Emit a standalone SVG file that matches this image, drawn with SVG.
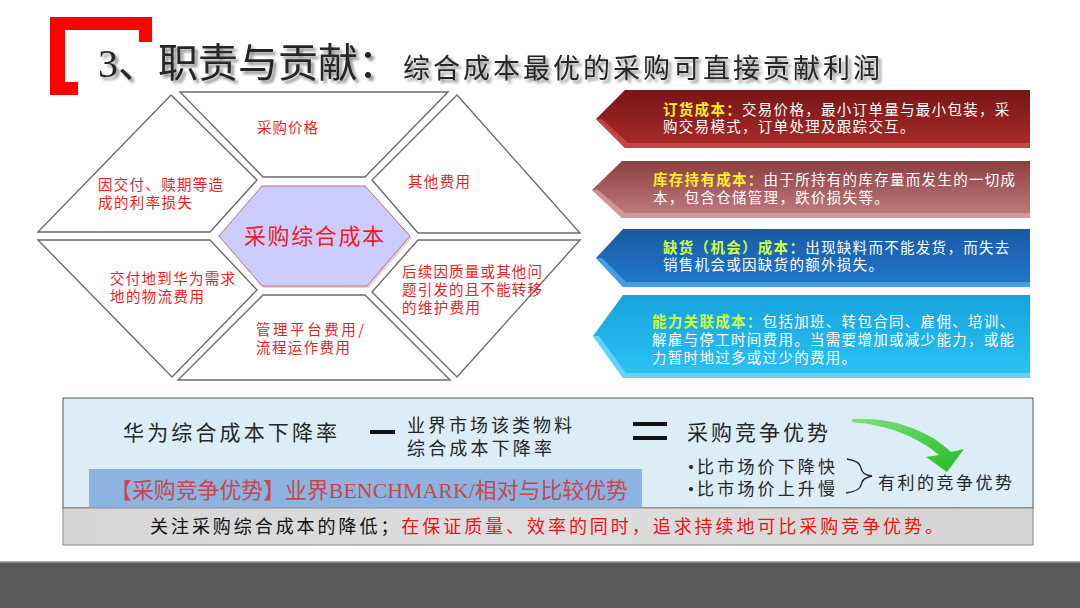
<svg xmlns="http://www.w3.org/2000/svg" width="1080" height="608" viewBox="0 0 1080 608">
<style>
.cjk{font-family:'Liberation Serif','Noto Sans CJK SC',serif}
.sans{font-family:'Noto Sans CJK SC',sans-serif}
.piece{fill:#fff;stroke:#6b6b6b;stroke-width:1.4;stroke-linejoin:miter}
.lbl{fill:#ee1c25;font-size:14.5px}
.arr{fill:#fff;font-size:14.5px;letter-spacing:1.3px}
.ylw{fill:#ffee33;font-weight:bold}
.grn{fill:#ccff44;font-weight:bold}
.dark{fill:#262626}
</style>
<defs>
<filter id="tsh" x="-5%" y="-20%" width="115%" height="160%">
<feDropShadow dx="3" dy="3" stdDeviation="1.5" flood-color="#000" flood-opacity="0.45"/>
</filter>
<linearGradient id="g1" x1="0" y1="0" x2="0" y2="1"><stop offset="0" stop-color="#761616"/><stop offset="1" stop-color="#ab2b2b"/></linearGradient>
<linearGradient id="g2" x1="0" y1="0" x2="0" y2="1"><stop offset="0" stop-color="#8a3f40"/><stop offset="1" stop-color="#c27f80"/></linearGradient>
<linearGradient id="g3" x1="0" y1="0" x2="0" y2="1"><stop offset="0" stop-color="#1a5aa5"/><stop offset="1" stop-color="#2079cc"/></linearGradient>
<linearGradient id="g4" x1="0" y1="0" x2="0" y2="1"><stop offset="0" stop-color="#17a2dc"/><stop offset="1" stop-color="#2cc3f4"/></linearGradient>
<linearGradient id="gg" x1="0" y1="0" x2="1" y2="1"><stop offset="0" stop-color="#7fe07f"/><stop offset="1" stop-color="#22bb22"/></linearGradient>
<linearGradient id="gstrip" x1="0" y1="0" x2="1" y2="0"><stop offset="0" stop-color="#d6d6d6"/><stop offset="0.5" stop-color="#dedede"/><stop offset="1" stop-color="#d4d4d4"/></linearGradient>
</defs>
<rect width="1080" height="608" fill="#fff"/>

<g id="title">
<polygon points="50,17 152,17 152,42 139,42 139,30 65,30 65,82 78,82 78,95 50,95" fill="#ff0000"/>
<g filter="url(#tsh)">
<text class="cjk dark" x="98" y="77" font-size="40" textLength="300" lengthAdjust="spacingAndGlyphs">3、职责与贡献：</text>
<text class="sans dark" x="403" y="78" font-size="27" textLength="477" lengthAdjust="spacing">综合成本最优的采购可直接贡献利润</text>
</g>
</g>

<g id="cost-diagram">
<g id="piece-top"><polygon class="piece" points="180,92 448,92 365,177 263,177"/>
<text class="sans lbl" x="257" y="133" textLength="61">采购价格</text></g>
<g id="piece-top-left"><polygon class="piece" points="171,95 257,180 210,232 38,232"/>
<text class="sans lbl"><tspan x="98" y="190" textLength="125">因交付、赎期等造</tspan><tspan x="98" y="208" textLength="94">成的利率损失</tspan></text></g>
<g id="piece-top-right"><polygon class="piece" points="457,95 580,233 418,233 372,180"/>
<text class="sans lbl" x="408" y="187" textLength="62">其他费用</text></g>
<g id="piece-bottom-left"><polygon class="piece" points="38,240 210,240 257,290 172,377"/>
<text class="sans lbl"><tspan x="110" y="284" textLength="125">交付地到华为需求</tspan><tspan x="110" y="302" textLength="94">地的物流费用</tspan></text></g>
<g id="piece-bottom"><polygon class="piece" points="263,295 365,295 450,380 178,380"/>
<text class="sans lbl"><tspan x="256" y="335" textLength="108">管理平台费用/</tspan><tspan x="256" y="353" textLength="94">流程运作费用</tspan></text></g>
<g id="piece-bottom-right"><polygon class="piece" points="418,240 580,240 457,377 372,292"/>
<text class="sans lbl"><tspan x="402" y="277" textLength="140">后续因质量或其他问</tspan><tspan x="402" y="295" textLength="140">题引发的且不能转移</tspan><tspan x="402" y="313" textLength="78">的维护费用</tspan></text></g>
<g id="center">
<polygon points="221,238 264,188 367,188 412,238 369,288 264,288" fill="#cfcfcf" opacity="0.8"/>
<polygon points="219,236 262,186 365,186 410,236 367,286 262,286" fill="#ccccff" stroke="#c07070" stroke-width="1"/>
<text class="sans" x="314" y="244" font-size="22" fill="#ee1c25" text-anchor="middle" textLength="140">采购综合成本</text>
</g>
</g>

<g id="cost-types">
<g id="ordering-cost">
<polygon points="596,119 625,90 1030,90 1030,148 625,148" fill="url(#g1)"/>
<polygon points="596,119 602,119 628,143 1030,143 1030,148 625,148" fill="#d14a4a" opacity="0.8"/>
<text class="sans arr"><tspan x="663" y="115" class="ylw">订货成本：</tspan><tspan>交易价格，最小订单量与最小包装，采</tspan><tspan x="663" y="132">购交易模式，订单处理及跟踪交互。</tspan></text>
</g>
<g id="holding-cost">
<polygon points="592,190 622,161 1030,161 1030,218 622,218" fill="url(#g2)"/>
<polygon points="592,190 598,190 625,213 1030,213 1030,218 622,218" fill="#d9a0a0" opacity="0.8"/>
<text class="sans arr"><tspan x="653" y="185" class="ylw">库存持有成本：</tspan><tspan>由于所持有的库存量而发生的一切成</tspan><tspan x="653" y="203">本，包含仓储管理，跌价损失等。</tspan></text>
</g>
<g id="shortage-cost">
<polygon points="596,258 623,229 1030,229 1030,287 623,287" fill="url(#g3)"/>
<polygon points="596,258 602,258 626,282 1030,282 1030,287 623,287" fill="#4aa6e6" opacity="0.85"/>
<text class="sans arr"><tspan x="663" y="253" class="grn">缺货（机会）成本：</tspan><tspan>出现缺料而不能发货，而失去</tspan><tspan x="663" y="270">销售机会或因缺货的额外损失。</tspan></text>
</g>
<g id="capacity-cost">
<polygon points="593,336 623,295 1030,295 1030,378 623,378" fill="url(#g4)"/>
<polygon points="593,336 599,336 626,373 1030,373 1030,378 623,378" fill="#6fd8f8" opacity="0.85"/>
<text class="sans arr"><tspan x="652" y="327" class="grn">能力关联成本：</tspan><tspan>包括加班、转包合同、雇佣、培训、</tspan><tspan x="652" y="345">解雇与停工时间费用。当需要增加或减少能力，或能</tspan><tspan x="652" y="363">力暂时地过多或过少的费用。</tspan></text>
</g>
</g>

<g id="formula">
<rect x="63" y="398" width="970" height="110" fill="#dcedf5" stroke="#555" stroke-width="1"/>
<rect x="89" y="469" width="553" height="39" fill="#8db3e2"/>
<text class="cjk" x="110" y="498" font-size="22" fill="#c9474b" textLength="518" lengthAdjust="spacingAndGlyphs">【采购竞争优势】业界BENCHMARK/相对与比较优势</text>
<text class="sans" x="123" y="440" font-size="21" fill="#262626" textLength="214">华为综合成本下降率</text>
<rect x="370" y="430" width="25" height="4" fill="#111"/>
<text class="sans" font-size="18" fill="#262626"><tspan x="407" y="432" textLength="165">业界市场该类物料</tspan><tspan x="407" y="455" textLength="145">综合成本下降率</tspan></text>
<rect x="633" y="422" width="34" height="4" fill="#111"/>
<rect x="633" y="436" width="34" height="4" fill="#111"/>
<text class="sans" x="687" y="440" font-size="21" fill="#262626" textLength="141">采购竞争优势</text>
<text class="cjk" font-size="17" fill="#262626"><tspan x="688" y="473" textLength="147">•比市场价下降快</tspan><tspan x="688" y="495" textLength="147">•比市场价上升慢</tspan></text>
<path d="M847,459 Q860,461 861,468 Q862,475 872,476 Q862,478 861,485 Q860,491 846,493" fill="none" stroke="#222" stroke-width="1.4"/>
<text class="sans" x="878" y="489" font-size="17" fill="#262626" textLength="134">有利的竞争优势</text>
<path d="M852,419 C892,417 928,430 951,452 L964,449 L947,472 L926,457 L939,455 C918,437 888,425 852,422 Z" fill="url(#gg)"/>
</g>

<g id="note">
<rect x="63" y="508" width="970" height="37" fill="url(#gstrip)" stroke="#888" stroke-width="1"/>
<text class="sans" x="150" y="533" font-size="18" fill="#111" textLength="793"><tspan>关注采购综合成本的降低；</tspan><tspan fill="#ee1111">在保证质量、效率的同时，追求持续地可比采购竞争优势。</tspan></text>
</g>

<g id="footer">
<rect x="0" y="562" width="1080" height="46" fill="#595959"/>
<rect x="0" y="561" width="1080" height="1.5" fill="#b5b5b5"/>
</g>
</svg>
